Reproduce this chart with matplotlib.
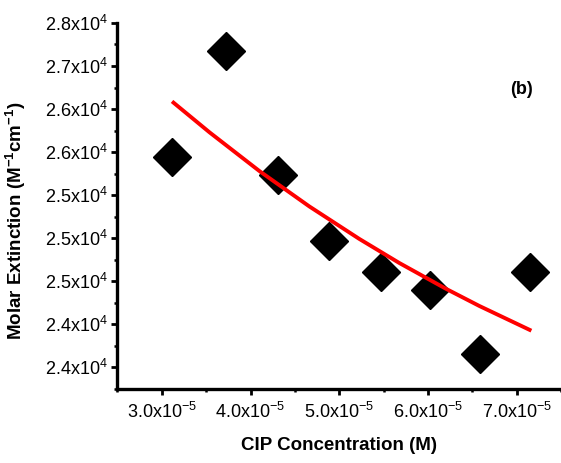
import matplotlib.pyplot as plt
from matplotlib.ticker import AutoMinorLocator

plt.rcParams['font.family'] = ['Liberation Sans', 'DejaVu Sans']
plt.rcParams['mathtext.default'] = 'regular'

# --- data ---
conc = [3.12e-5, 3.725e-5, 4.307e-5, 4.889e-5, 5.469e-5, 6.02e-5, 6.59e-5, 7.146e-5]
molar_ext = [26442, 27679, 26233, 25465, 25108, 24895, 24159, 25108]

# fitted curve (red), sampled along the drawn line
fit_x = [3.132e-5, 3.537e-5, 4.100e-5, 4.663e-5, 5.226e-5, 5.676e-5, 6.201e-5, 6.580e-5, 7.146e-5]
fit_y = [27074, 26730, 26280, 25869, 25492, 25213, 24914, 24713, 24436]

xticks = [3e-5, 4e-5, 5e-5, 6e-5, 7e-5]
xtick_labels = ['3.0x10$^{-5}$', '4.0x10$^{-5}$', '5.0x10$^{-5}$', '6.0x10$^{-5}$', '7.0x10$^{-5}$']
yticks = [24000, 24500, 25000, 25500, 26000, 26500, 27000, 27500, 28000]
ytick_labels = ['2.4x10$^{4}$', '2.4x10$^{4}$', '2.5x10$^{4}$', '2.5x10$^{4}$', '2.5x10$^{4}$',
                '2.6x10$^{4}$', '2.6x10$^{4}$', '2.7x10$^{4}$', '2.8x10$^{4}$']

fig = plt.figure(figsize=(5.61, 4.63), dpi=100)
ax = fig.add_axes([0.2094, 0.160, 0.7906, 0.7905])

ax.plot(conc, molar_ext, linestyle='none', marker='D', color='black', markersize=19, zorder=2)
ax.plot(fit_x, fit_y, color='red', linewidth=2.8, zorder=3)

ax.set_xlim(2.5e-5, 7.5e-5)
ax.set_ylim(23750, 28000)
ax.set_xticks(xticks)
ax.set_xticklabels(xtick_labels)
ax.set_yticks(yticks)
ax.set_yticklabels(ytick_labels)
ax.xaxis.set_minor_locator(AutoMinorLocator(2))
ax.yaxis.set_minor_locator(AutoMinorLocator(2))

for side in ['top', 'right']:
    ax.spines[side].set_visible(False)
for side in ['left', 'bottom']:
    ax.spines[side].set_linewidth(2.4)

ax.tick_params(which='major', direction='out', length=4, width=2, labelsize=13, pad=3)
ax.tick_params(axis='x', which='major', pad=5)
ax.tick_params(which='minor', direction='out', length=2, width=1.8)

ax.set_xlabel('CIP Concentration (M)', fontsize=13.5, fontweight='bold')
ax.set_ylabel('Molar Extinction (M$^{-1}$cm$^{-1}$)', fontsize=13.5, fontweight='bold')
ax.xaxis.set_label_coords(0.5, -0.131)
ax.yaxis.set_label_coords(-0.2025, 0.46)

ax.text(0.912, 0.817, '(b)', transform=ax.transAxes, fontsize=13, fontweight='bold',
        ha='center', va='center')

fig.savefig('out.png', dpi=100)
